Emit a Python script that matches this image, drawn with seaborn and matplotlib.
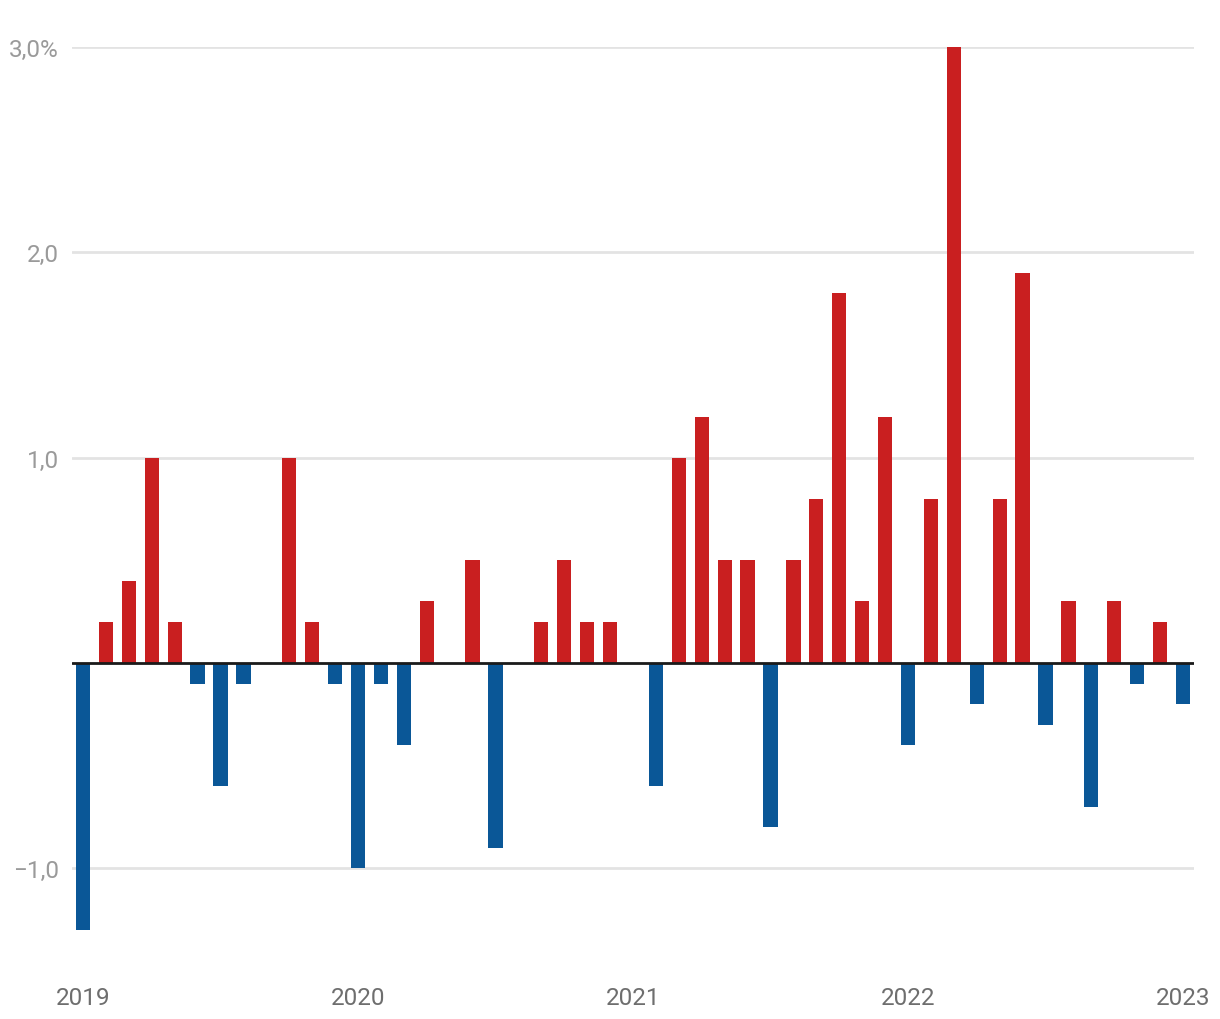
import matplotlib
matplotlib.use("Agg")
import matplotlib.pyplot as plt
import seaborn as sns
import pandas as pd

months = pd.date_range("2019-01-01", "2023-01-01", freq="MS").strftime("%Y-%m").tolist()
values = [
    -1.3, 0.2, 0.4, 1.0, 0.2, -0.1, -0.6, -0.1, 0.0, 1.0, 0.2, -0.1,
    -1.0, -0.1, -0.4, 0.3, 0.0, 0.5, -0.9, 0.0, 0.2, 0.5, 0.2, 0.2,
    0.0, -0.6, 1.0, 1.2, 0.5, 0.5, -0.8, 0.5, 0.8, 1.8, 0.3, 1.2,
    -0.4, 0.8, 3.0, -0.2, 0.8, 1.9, -0.3, 0.3, -0.7, 0.3, -0.1, 0.2,
    -0.2,
]
ytick_vals = [-1.0, 1.0, 2.0, 3.0]
ytick_labels = ["\u22121,0", "1,0", "2,0", "3,0%"]
xtick_labels = ["2019", "2020", "2021", "2022", "2023"]

RED = "#c91f20"
BLUE = "#0a5797"

sns.set_theme(style="white")
plt.rcParams["font.family"] = ["Roboto", "DejaVu Sans"]

df = pd.DataFrame({"month": months, "value": values})
df["sign"] = ["pos" if v >= 0 else "neg" for v in values]

fig = plt.figure(figsize=(12.2, 10.2), dpi=100)
ax = fig.add_axes([72 / 1220, 1 - 972 / 1020, (1194 - 72) / 1220, (972 - 48) / 1020])

sns.barplot(data=df, x="month", y="value", hue="sign", order=months,
            palette={"pos": RED, "neg": BLUE}, dodge=False, width=0.62,
            legend=False, ax=ax, saturation=1, zorder=3, linewidth=0)

ax.set_xlim(-0.48, 48.48)
ax.set_ylim(-1.5, 3.0)

for v in ytick_vals:
    ax.axhline(v, color="#e3e3e3", lw=2, zorder=1)
ax.axhline(0, color="#1a1a1a", lw=2, zorder=4)

ax.set_yticks(ytick_vals)
ax.set_yticklabels(ytick_labels, color="#9a9a9a", fontsize=17.5)
ax.set_xticks([0, 12, 24, 36, 48])
ax.set_xticklabels(xtick_labels, color="#6e6e6e", fontsize=17.5)
ax.tick_params(axis="y", length=0, pad=9.4)
ax.tick_params(axis="x", length=0, pad=10.5)
ax.set_xlabel("")
ax.set_ylabel("")
for s in ax.spines.values():
    s.set_visible(False)
ax.grid(False)

fig.savefig("out.png", dpi=100, facecolor="white")
